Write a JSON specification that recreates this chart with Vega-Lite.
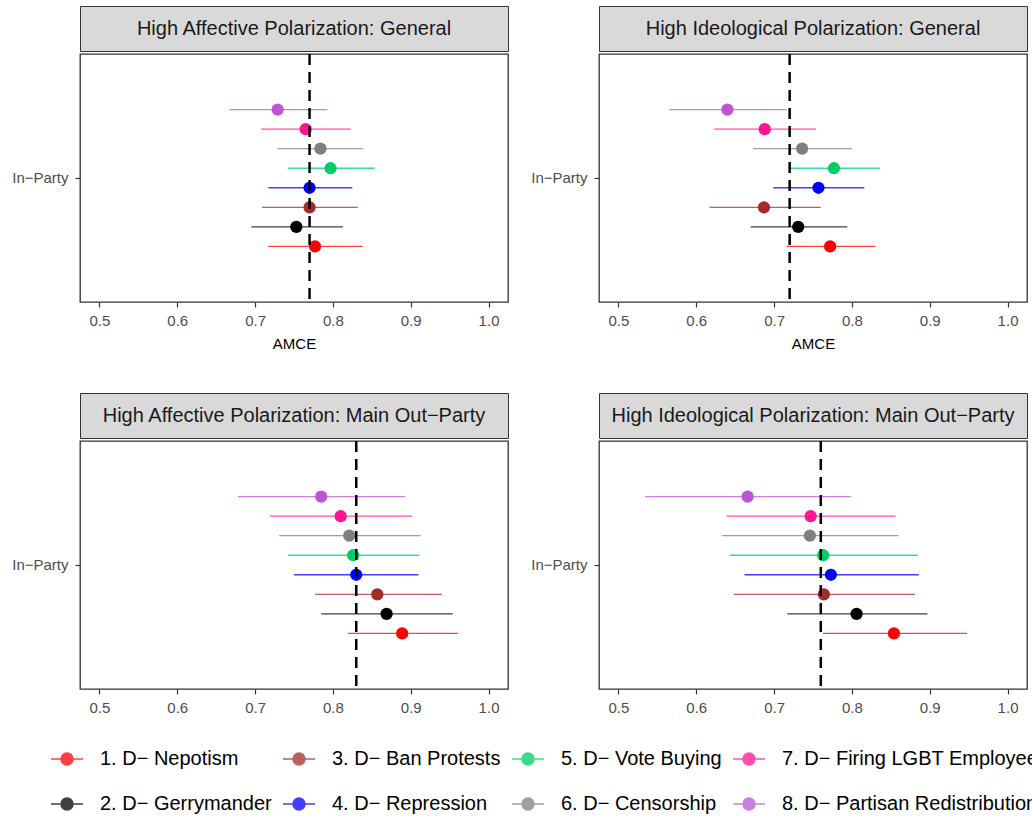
{
  "$schema": "https://vega.github.io/schema/vega-lite/v6.json",
  "background": "white",
  "padding": {"left": 11, "top": 5, "right": 0, "bottom": 0},
  "config": {
    "font": "Liberation Sans",
    "view": {"stroke": "#333333", "strokeWidth": 1.3},
    "axis": {
      "domain": false,
      "grid": false,
      "tickColor": "#333333",
      "tickSize": 5,
      "tickWidth": 1.2,
      "labelFont": "Liberation Sans",
      "labelFontSize": 15,
      "labelColor": "#4D4D4D",
      "titleFont": "Liberation Sans",
      "titleFontSize": 15,
      "titleFontWeight": "normal",
      "titleColor": "#000000"
    }
  },
  "datasets": {
    "est": [
      {"panel": "High Affective Polarization: General", "party": "In−Party", "feature": "1. D− Nepotism", "estimate": 0.777, "lower": 0.717, "upper": 0.838},
      {"panel": "High Affective Polarization: General", "party": "In−Party", "feature": "2. D− Gerrymander", "estimate": 0.753, "lower": 0.695, "upper": 0.813},
      {"panel": "High Affective Polarization: General", "party": "In−Party", "feature": "3. D− Ban Protests", "estimate": 0.770, "lower": 0.709, "upper": 0.832},
      {"panel": "High Affective Polarization: General", "party": "In−Party", "feature": "4. D− Repression", "estimate": 0.770, "lower": 0.717, "upper": 0.825},
      {"panel": "High Affective Polarization: General", "party": "In−Party", "feature": "5. D− Vote Buying", "estimate": 0.797, "lower": 0.742, "upper": 0.854},
      {"panel": "High Affective Polarization: General", "party": "In−Party", "feature": "6. D− Censorship", "estimate": 0.784, "lower": 0.729, "upper": 0.839},
      {"panel": "High Affective Polarization: General", "party": "In−Party", "feature": "7. D− Firing LGBT Employees", "estimate": 0.765, "lower": 0.708, "upper": 0.823},
      {"panel": "High Affective Polarization: General", "party": "In−Party", "feature": "8. D− Partisan Redistribution", "estimate": 0.729, "lower": 0.667, "upper": 0.793},

      {"panel": "High Ideological Polarization: General", "party": "In−Party", "feature": "1. D− Nepotism", "estimate": 0.772, "lower": 0.716, "upper": 0.830},
      {"panel": "High Ideological Polarization: General", "party": "In−Party", "feature": "2. D− Gerrymander", "estimate": 0.731, "lower": 0.670, "upper": 0.794},
      {"panel": "High Ideological Polarization: General", "party": "In−Party", "feature": "3. D− Ban Protests", "estimate": 0.687, "lower": 0.617, "upper": 0.760},
      {"panel": "High Ideological Polarization: General", "party": "In−Party", "feature": "4. D− Repression", "estimate": 0.757, "lower": 0.699, "upper": 0.816},
      {"panel": "High Ideological Polarization: General", "party": "In−Party", "feature": "5. D− Vote Buying", "estimate": 0.777, "lower": 0.719, "upper": 0.836},
      {"panel": "High Ideological Polarization: General", "party": "In−Party", "feature": "6. D− Censorship", "estimate": 0.736, "lower": 0.673, "upper": 0.800},
      {"panel": "High Ideological Polarization: General", "party": "In−Party", "feature": "7. D− Firing LGBT Employees", "estimate": 0.688, "lower": 0.623, "upper": 0.754},
      {"panel": "High Ideological Polarization: General", "party": "In−Party", "feature": "8. D− Partisan Redistribution", "estimate": 0.640, "lower": 0.565, "upper": 0.716},

      {"panel": "High Affective Polarization: Main Out−Party", "party": "In−Party", "feature": "1. D− Nepotism", "estimate": 0.889, "lower": 0.819, "upper": 0.961},
      {"panel": "High Affective Polarization: Main Out−Party", "party": "In−Party", "feature": "2. D− Gerrymander", "estimate": 0.869, "lower": 0.785, "upper": 0.954},
      {"panel": "High Affective Polarization: Main Out−Party", "party": "In−Party", "feature": "3. D− Ban Protests", "estimate": 0.857, "lower": 0.777, "upper": 0.940},
      {"panel": "High Affective Polarization: Main Out−Party", "party": "In−Party", "feature": "4. D− Repression", "estimate": 0.830, "lower": 0.750, "upper": 0.910},
      {"panel": "High Affective Polarization: Main Out−Party", "party": "In−Party", "feature": "5. D− Vote Buying", "estimate": 0.826, "lower": 0.742, "upper": 0.911},
      {"panel": "High Affective Polarization: Main Out−Party", "party": "In−Party", "feature": "6. D− Censorship", "estimate": 0.821, "lower": 0.731, "upper": 0.913},
      {"panel": "High Affective Polarization: Main Out−Party", "party": "In−Party", "feature": "7. D− Firing LGBT Employees", "estimate": 0.810, "lower": 0.719, "upper": 0.902},
      {"panel": "High Affective Polarization: Main Out−Party", "party": "In−Party", "feature": "8. D− Partisan Redistribution", "estimate": 0.785, "lower": 0.678, "upper": 0.893},

      {"panel": "High Ideological Polarization: Main Out−Party", "party": "In−Party", "feature": "1. D− Nepotism", "estimate": 0.854, "lower": 0.763, "upper": 0.948},
      {"panel": "High Ideological Polarization: Main Out−Party", "party": "In−Party", "feature": "2. D− Gerrymander", "estimate": 0.806, "lower": 0.717, "upper": 0.897},
      {"panel": "High Ideological Polarization: Main Out−Party", "party": "In−Party", "feature": "3. D− Ban Protests", "estimate": 0.764, "lower": 0.648, "upper": 0.881},
      {"panel": "High Ideological Polarization: Main Out−Party", "party": "In−Party", "feature": "4. D− Repression", "estimate": 0.773, "lower": 0.662, "upper": 0.886},
      {"panel": "High Ideological Polarization: Main Out−Party", "party": "In−Party", "feature": "5. D− Vote Buying", "estimate": 0.763, "lower": 0.643, "upper": 0.885},
      {"panel": "High Ideological Polarization: Main Out−Party", "party": "In−Party", "feature": "6. D− Censorship", "estimate": 0.746, "lower": 0.633, "upper": 0.860},
      {"panel": "High Ideological Polarization: Main Out−Party", "party": "In−Party", "feature": "7. D− Firing LGBT Employees", "estimate": 0.747, "lower": 0.639, "upper": 0.856},
      {"panel": "High Ideological Polarization: Main Out−Party", "party": "In−Party", "feature": "8. D− Partisan Redistribution", "estimate": 0.666, "lower": 0.534, "upper": 0.799}
    ],
    "refs": [
      {"panel": "High Affective Polarization: General", "value": 0.770},
      {"panel": "High Ideological Polarization: General", "value": 0.720},
      {"panel": "High Affective Polarization: Main Out−Party", "value": 0.830},
      {"panel": "High Ideological Polarization: Main Out−Party", "value": 0.760}
    ]
  },
  "columns": 2,
  "spacing": {"column": 21, "row": 40},
  "resolve": {"scale": {"color": "shared"}},
  "concat": [
    {
      "spacing": 0,
      "vconcat": [
        {
          "width": 428, "height": 45,
          "data": {"name": "est"},
          "transform": [{"filter": "datum.panel === 'High Affective Polarization: General'"}, {"aggregate": [], "groupby": ["panel"]}],
          "view": {"fill": "#D9D9D9", "stroke": "#333333"},
          "mark": {"type": "text", "fontSize": 20, "color": "#1A1A1A"},
          "encoding": {"text": {"field": "panel"}}
        },
        {
          "width": 428, "height": 248,
          "layer": [
            {
              "data": {"name": "est"},
              "transform": [{"filter": "datum.panel === 'High Affective Polarization: General'"}],
              "mark": {"type": "rule", "strokeWidth": 1.3, "opacity": 0.75},
              "encoding": {
                "x": {"field": "lower", "type": "quantitative", "scale": {"domain": [0.475, 1.025], "nice": false, "zero": false}, "axis": {"values": [0.5, 0.6, 0.7, 0.8, 0.9, 1.0], "format": ".1f", "labelPadding": 6, "title": "AMCE", "titlePadding": 8}},
                "x2": {"field": "upper"},
                "y": {"field": "party", "type": "nominal", "title": null, "scale": {"type": "band", "paddingInner": 0, "paddingOuter": 0.293}, "axis": {"labelPadding": 7}},
                "yOffset": {"field": "feature", "type": "nominal", "sort": "descending", "scale": {"paddingInner": 0, "paddingOuter": 0}},
                "color": {"field": "feature", "type": "nominal",
                  "scale": {"domain": ["1. D− Nepotism", "3. D− Ban Protests", "5. D− Vote Buying", "7. D− Firing LGBT Employees", "2. D− Gerrymander", "4. D− Repression", "6. D− Censorship", "8. D− Partisan Redistribution"],
                            "range": ["#FF0000", "#A52A2A", "#00CD66", "#FF1493", "#000000", "#0000FF", "#7F7F7F", "#BA55D3"]},
                  "legend": {"title": null, "orient": "none", "legendX": -30, "legendY": 736, "direction": "horizontal", "columns": 4,
                    "symbolType": "M-1,0H1M-0.375,0A0.375,0.375,0,1,1,0.375,0A0.375,0.375,0,1,1,-0.375,0Z",
                    "symbolSize": 1024, "symbolStrokeWidth": 1.5, "labelFontSize": 20, "labelFont": "Liberation Sans", "labelOffset": 16, "rowPadding": 18, "columnPadding": 8, "labelLimit": 400, "labelColor": "#000000",
                    "encode": {"symbols": {"update": {"stroke": {"scale": "color", "field": "value"}, "fill": {"scale": "color", "field": "value"}, "opacity": {"value": 1}}}}}}
              }
            },
            {
              "data": {"name": "est"},
              "transform": [{"filter": "datum.panel === 'High Affective Polarization: General'"}],
              "mark": {"type": "point", "filled": true, "size": 150, "opacity": 1},
              "encoding": {
                "x": {"field": "estimate", "type": "quantitative"},
                "y": {"field": "party", "type": "nominal"},
                "yOffset": {"field": "feature", "type": "nominal", "sort": "descending"},
                "color": {"field": "feature", "type": "nominal"}
              }
            },
            {
              "data": {"name": "refs"},
              "transform": [{"filter": "datum.panel === 'High Affective Polarization: General'"}],
              "mark": {"type": "rule", "strokeDash": [11, 7], "strokeWidth": 2.5, "color": "#000000"},
              "encoding": {"x": {"field": "value", "type": "quantitative"}}
            }
          ]
        }
      ]
    },
    {
      "spacing": 0,
      "vconcat": [
        {
          "width": 428, "height": 45,
          "data": {"name": "est"},
          "transform": [{"filter": "datum.panel === 'High Ideological Polarization: General'"}, {"aggregate": [], "groupby": ["panel"]}],
          "view": {"fill": "#D9D9D9", "stroke": "#333333"},
          "mark": {"type": "text", "fontSize": 20, "color": "#1A1A1A"},
          "encoding": {"text": {"field": "panel"}}
        },
        {
          "width": 428, "height": 248,
          "layer": [
            {
              "data": {"name": "est"},
              "transform": [{"filter": "datum.panel === 'High Ideological Polarization: General'"}],
              "mark": {"type": "rule", "strokeWidth": 1.3, "opacity": 0.75},
              "encoding": {
                "x": {"field": "lower", "type": "quantitative", "scale": {"domain": [0.475, 1.025], "nice": false, "zero": false}, "axis": {"values": [0.5, 0.6, 0.7, 0.8, 0.9, 1.0], "format": ".1f", "labelPadding": 6, "title": "AMCE", "titlePadding": 8}},
                "x2": {"field": "upper"},
                "y": {"field": "party", "type": "nominal", "title": null, "scale": {"type": "band", "paddingInner": 0, "paddingOuter": 0.293}, "axis": {"labelPadding": 7}},
                "yOffset": {"field": "feature", "type": "nominal", "sort": "descending", "scale": {"paddingInner": 0, "paddingOuter": 0}},
                "color": {"field": "feature", "type": "nominal"}
              }
            },
            {
              "data": {"name": "est"},
              "transform": [{"filter": "datum.panel === 'High Ideological Polarization: General'"}],
              "mark": {"type": "point", "filled": true, "size": 150, "opacity": 1},
              "encoding": {
                "x": {"field": "estimate", "type": "quantitative"},
                "y": {"field": "party", "type": "nominal"},
                "yOffset": {"field": "feature", "type": "nominal", "sort": "descending"},
                "color": {"field": "feature", "type": "nominal"}
              }
            },
            {
              "data": {"name": "refs"},
              "transform": [{"filter": "datum.panel === 'High Ideological Polarization: General'"}],
              "mark": {"type": "rule", "strokeDash": [11, 7], "strokeWidth": 2.5, "color": "#000000"},
              "encoding": {"x": {"field": "value", "type": "quantitative"}}
            }
          ]
        }
      ]
    },
    {
      "spacing": 0,
      "vconcat": [
        {
          "width": 428, "height": 45,
          "data": {"name": "est"},
          "transform": [{"filter": "datum.panel === 'High Affective Polarization: Main Out−Party'"}, {"aggregate": [], "groupby": ["panel"]}],
          "view": {"fill": "#D9D9D9", "stroke": "#333333"},
          "mark": {"type": "text", "fontSize": 20, "color": "#1A1A1A"},
          "encoding": {"text": {"field": "panel"}}
        },
        {
          "width": 428, "height": 248,
          "layer": [
            {
              "data": {"name": "est"},
              "transform": [{"filter": "datum.panel === 'High Affective Polarization: Main Out−Party'"}],
              "mark": {"type": "rule", "strokeWidth": 1.3, "opacity": 0.75},
              "encoding": {
                "x": {"field": "lower", "type": "quantitative", "scale": {"domain": [0.475, 1.025], "nice": false, "zero": false}, "axis": {"values": [0.5, 0.6, 0.7, 0.8, 0.9, 1.0], "format": ".1f", "labelPadding": 6, "title": null}},
                "x2": {"field": "upper"},
                "y": {"field": "party", "type": "nominal", "title": null, "scale": {"type": "band", "paddingInner": 0, "paddingOuter": 0.293}, "axis": {"labelPadding": 7}},
                "yOffset": {"field": "feature", "type": "nominal", "sort": "descending", "scale": {"paddingInner": 0, "paddingOuter": 0}},
                "color": {"field": "feature", "type": "nominal"}
              }
            },
            {
              "data": {"name": "est"},
              "transform": [{"filter": "datum.panel === 'High Affective Polarization: Main Out−Party'"}],
              "mark": {"type": "point", "filled": true, "size": 150, "opacity": 1},
              "encoding": {
                "x": {"field": "estimate", "type": "quantitative"},
                "y": {"field": "party", "type": "nominal"},
                "yOffset": {"field": "feature", "type": "nominal", "sort": "descending"},
                "color": {"field": "feature", "type": "nominal"}
              }
            },
            {
              "data": {"name": "refs"},
              "transform": [{"filter": "datum.panel === 'High Affective Polarization: Main Out−Party'"}],
              "mark": {"type": "rule", "strokeDash": [11, 7], "strokeWidth": 2.5, "color": "#000000"},
              "encoding": {"x": {"field": "value", "type": "quantitative"}}
            }
          ]
        }
      ]
    },
    {
      "spacing": 0,
      "vconcat": [
        {
          "width": 428, "height": 45,
          "data": {"name": "est"},
          "transform": [{"filter": "datum.panel === 'High Ideological Polarization: Main Out−Party'"}, {"aggregate": [], "groupby": ["panel"]}],
          "view": {"fill": "#D9D9D9", "stroke": "#333333"},
          "mark": {"type": "text", "fontSize": 20, "color": "#1A1A1A"},
          "encoding": {"text": {"field": "panel"}}
        },
        {
          "width": 428, "height": 248,
          "layer": [
            {
              "data": {"name": "est"},
              "transform": [{"filter": "datum.panel === 'High Ideological Polarization: Main Out−Party'"}],
              "mark": {"type": "rule", "strokeWidth": 1.3, "opacity": 0.75},
              "encoding": {
                "x": {"field": "lower", "type": "quantitative", "scale": {"domain": [0.475, 1.025], "nice": false, "zero": false}, "axis": {"values": [0.5, 0.6, 0.7, 0.8, 0.9, 1.0], "format": ".1f", "labelPadding": 6, "title": null}},
                "x2": {"field": "upper"},
                "y": {"field": "party", "type": "nominal", "title": null, "scale": {"type": "band", "paddingInner": 0, "paddingOuter": 0.293}, "axis": {"labelPadding": 7}},
                "yOffset": {"field": "feature", "type": "nominal", "sort": "descending", "scale": {"paddingInner": 0, "paddingOuter": 0}},
                "color": {"field": "feature", "type": "nominal"}
              }
            },
            {
              "data": {"name": "est"},
              "transform": [{"filter": "datum.panel === 'High Ideological Polarization: Main Out−Party'"}],
              "mark": {"type": "point", "filled": true, "size": 150, "opacity": 1},
              "encoding": {
                "x": {"field": "estimate", "type": "quantitative"},
                "y": {"field": "party", "type": "nominal"},
                "yOffset": {"field": "feature", "type": "nominal", "sort": "descending"},
                "color": {"field": "feature", "type": "nominal"}
              }
            },
            {
              "data": {"name": "refs"},
              "transform": [{"filter": "datum.panel === 'High Ideological Polarization: Main Out−Party'"}],
              "mark": {"type": "rule", "strokeDash": [11, 7], "strokeWidth": 2.5, "color": "#000000"},
              "encoding": {"x": {"field": "value", "type": "quantitative"}}
            }
          ]
        }
      ]
    }
  ]
}
